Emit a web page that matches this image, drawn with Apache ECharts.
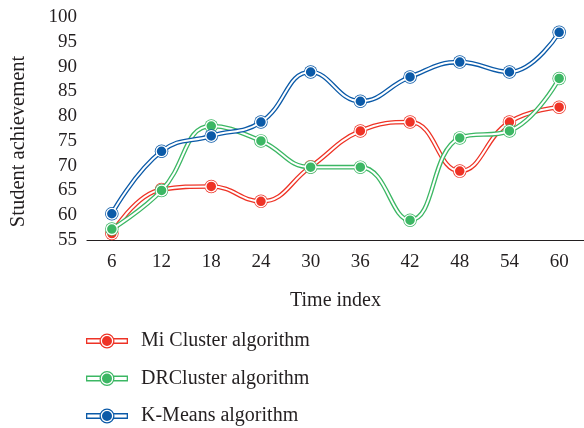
<!DOCTYPE html>
<html>
<head>
<meta charset="utf-8">
<script src="https://cdn.jsdelivr.net/npm/echarts@6/dist/echarts.min.js"></script>
<style>html,body{margin:0;padding:0;background:#fff}#c{width:584px;height:428px}</style>
</head>
<body>
<div id="c"></div>
<script>
var categories = ['6','12','18','24','30','36','42','48','54','60'];
var miCluster = [56.3, 65.2, 65.8, 62.8, 69.8, 77.0, 78.8, 68.9, 78.8, 81.8];
var drCluster = [57.2, 65.0, 78.0, 75.0, 69.7, 69.7, 59.0, 75.6, 77.0, 87.6];
var kMeans = [60.3, 72.9, 76.0, 78.8, 88.9, 83.0, 87.9, 90.9, 88.9, 96.9];
var seriesNames = ['Mi Cluster algorithm', 'DRCluster algorithm', 'K-Means algorithm'];
var yTicks = {min: 55, max: 100, interval: 5};

var colors = ['#ee3326', '#3cb764', '#0b5aa8'];
var font = 'Liberation Serif';
var textColor = '#231f20';

var iconPath = 'path://M0,5 L14.5,5 L14.5,11 L0,11 Z M1.3,6.4 L1.3,9.6 L14.5,9.6 L14.5,6.4 Z ' +
  'M13.5,8 A7.5,7.5 0 1 1 28.5,8 A7.5,7.5 0 1 1 13.5,8 Z ' +
  'M14.8,8 A6.2,6.2 0 1 0 27.2,8 A6.2,6.2 0 1 0 14.8,8 Z ' +
  'M16,8 A5,5 0 1 1 26,8 A5,5 0 1 1 16,8 Z ' +
  'M27.5,5 L42,5 L42,11 L27.5,11 Z M27.5,6.4 L27.5,9.6 L40.7,9.6 L40.7,6.4 Z';

var datas = [miCluster, drCluster, kMeans];
var series = [];
datas.forEach(function (d, i) {
  series.push({
    name: seriesNames[i], type: 'line', data: d, smooth: 0.45,
    symbol: 'circle', symbolSize: 13.5,
    itemStyle: {color: colors[i]},
    lineStyle: {color: colors[i], width: 4.6},
    z: 2 + i * 2
  });
  series.push({
    name: seriesNames[i], type: 'line', data: d, smooth: 0.45,
    symbol: 'circle', symbolSize: 10.8,
    itemStyle: {color: colors[i], borderColor: '#fff', borderWidth: 1.3},
    lineStyle: {color: '#fff', width: 2},
    z: 3 + i * 2
  });
});

var chart = echarts.init(document.getElementById('c'), null, {renderer: 'canvas'});
chart.setOption({
  animation: false,
  backgroundColor: '#fff',
  textStyle: {fontFamily: font, color: textColor},
  grid: {left: 86, right: -2, top: 17, bottom: 188},
  legend: {
    orient: 'vertical', left: 86, top: 331, padding: 0,
    data: seriesNames, icon: iconPath,
    itemWidth: 42, itemHeight: 16, itemGap: 17.5,
    itemStyle: {borderWidth: 0},
    textStyle: {fontFamily: font, fontSize: 20, lineHeight: 20, color: textColor, padding: [0, 0, 0, 8]}
  },
  xAxis: {
    type: 'category', data: categories, boundaryGap: true,
    name: 'Time index', nameLocation: 'middle', nameGap: 51,
    nameTextStyle: {fontFamily: font, fontSize: 20, color: textColor},
    axisLine: {lineStyle: {color: '#231f20', width: 1.2}},
    axisTick: {inside: true, length: 7, lineStyle: {color: '#231f20', width: 1.2}},
    axisLabel: {fontFamily: font, fontSize: 19, color: textColor, margin: 13}
  },
  yAxis: {
    type: 'value', min: yTicks.min, max: yTicks.max, interval: yTicks.interval,
    name: 'Student achievement', nameLocation: 'middle', nameGap: 58,
    nameTextStyle: {fontFamily: font, fontSize: 20.5, color: textColor, padding: [0, 26, 0, 0]},
    axisLine: {show: false}, axisTick: {show: false}, splitLine: {show: false},
    axisLabel: {fontFamily: font, fontSize: 19, color: textColor, margin: 10}
  },
  series: series
});
</script>
</body>
</html>
